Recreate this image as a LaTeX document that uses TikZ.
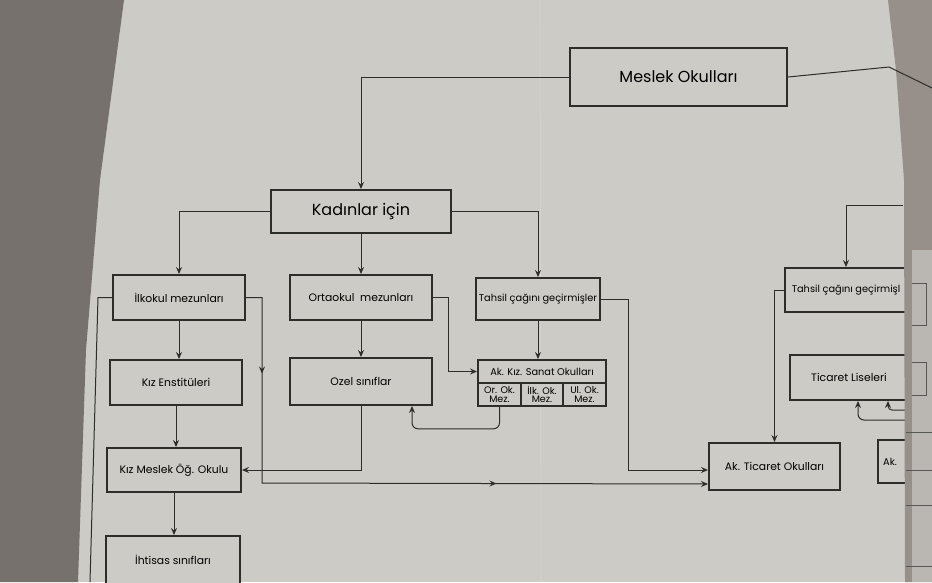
\documentclass[tikz,border=0pt]{standalone}
\usepackage{fontspec}
\setmainfont{Poppins}
\usetikzlibrary{arrows.meta,decorations.markings}
\definecolor{pagec}{RGB}{204,203,197}
\definecolor{leftpg}{RGB}{118,113,108}
\definecolor{foldc}{RGB}{150,143,138}
\definecolor{nextc}{RGB}{186,182,177}
\definecolor{ink}{RGB}{45,45,42}
\begin{document}
\begin{tikzpicture}[x=1pt,y=-1pt,
  box/.style={draw=ink,line width=2pt,fill=pagec,inner sep=0pt,align=center,
    font=\fontsize{10.8}{12}\selectfont},
  big/.style={font=\fontsize{16}{18}\selectfont},
  mid/.style={font=\fontsize{9.8}{11}\selectfont},
  cell/.style={draw=ink,line width=1.6pt,fill=pagec,inner sep=0pt,align=center,
    font=\fontsize{9.5}{8.6}\selectfont},
  sz/.style 2 args={minimum width=#1pt,minimum height=#2pt},
  conn/.style={draw=ink,line width=1pt},
  tip/.tip={Stealth[length=7pt,width=6pt,inset=2.5pt]},
  arr/.style={conn,-tip},
  thinline/.style={draw=ink!80,line width=0.8pt}]
\useasboundingbox (0,0) rectangle (932,582);
% background
\fill[pagec] (0,0) rectangle (932,582);
\fill[leftpg] (0,0) -- (124,0) -- (100,180) -- (86,350) -- (78,582) -- (0,582) -- cycle;
\draw[pagec!80!white,line width=0.6pt] (540,0) -- (541,582);
% nodes
\node[box,big,sz={217}{58}] (mo) at (678.5,77) {Meslek Okulları};
\node[box,big,sz={180}{43}] (ki) at (361,211.5) {Kadınlar için};
\node[box,sz={132}{45}] (ilk) at (179,297.5) {İlkokul mezunları};
\node[box,sz={142}{45}] (orta) at (361,297.5) {Ortaokul\ \ mezunları};
\node[box,mid,sz={124}{42}] (tah) at (538,299) {Tahsil çağını geçirmişler};
\node[box,sz={132}{45}] (kenst) at (176,382.5) {Kız Enstitüleri};
\node[box,sz={142}{47}] (ozel) at (361,381.5) {Ozel sınıflar};
\node[box,sz={134}{44}] (kmo) at (174,470) {Kız Meslek Öğ. Okulu};
\node[box,sz={134}{48}] (ihs) at (173,560) {İhtisas sınıfları};
\node[box,mid,sz={128}{23}] (aks) at (542,371.5) {Ak. Kız. Sanat Okulları};
\node[cell,sz={43}{23}] (c1) at (499.5,394.5) {Or. Ok.\\Mez.};
\node[cell,sz={42}{23}] (c2) at (542,394.5) {İlk. Ok.\\Mez.};
\node[cell,sz={43}{23}] (c3) at (584.5,394.5) {Ul. Ok.\\Mez.};
\node[box,sz={131}{47}] (ato) at (774.5,466.5) {Ak. Ticaret Okulları};
\node[box,mid,sz={122}{44}] (tah2) at (846,290) {Tahsil çağını geçirmişl};
\node[box,sz={118}{45}] (tl) at (849,377.5) {Ticaret Liseleri};
\node[box,mid,sz={30}{43}] (ak2) at (893,461.5) {Ak.\hspace*{6pt}};
% free ends
\coordinate (e1) at (90,582);
\coordinate (f1) at (903,205);
\coordinate (r1) at (906,420);
\coordinate (r2) at (906,410);
% connectors
\draw[arr] (mo.west) -| (ki.north);
\draw[arr] (ki.west) -| (ilk.north);
\draw[arr] (ki.south) -- (orta.north);
\draw[arr] (ki.east) -| (tah.north);
\draw[conn] (ilk.west) -- (98,297.5) -- (e1);
\draw[arr] (ilk.south) -- (ilk.south |- kenst.north);
\draw[arr] (kenst.south) -- (kenst.south |- kmo.north);
\draw[arr] (kmo.south) -- (kmo.south |- ihs.north);
\draw[arr] (orta.south) -- (ozel.north);
\draw[arr] (ozel.south) |- (kmo.east);
\draw[arr] (orta.east) -- (448,297.5) |- (aks.west);
\draw[arr] (tah.south) -- (tah.south |- aks.north);
\draw[arr,rounded corners=6pt] (c1.south) -- ++(0,22) -| ([xshift=51pt]ozel.south);
\draw[arr,postaction={decorate},decoration={markings,
    mark=at position 92pt with {\arrow{tip}},
    mark=at position 436pt with {\arrow{tip}}}]
  (ilk.east) -- (262,297.5) -- (262,483) -- ([yshift=7pt]ato.south west);
\draw[arr] (tah.east) -| (628,470) -- ([yshift=-3.5pt]ato.west);
\draw[arr] (tah2.west) -| (ato.north);
\draw[arr] (f1) -| (tah2.north);
\draw[arr,rounded corners=6pt] (r1) -| ([xshift=9pt]tl.south);
\draw[arr,rounded corners=4pt] (r2) -| ([xshift=39pt]tl.south);
% page fold at the right
\fill[foldc] (888,0) -- (932,0) -- (932,582) -- (905,582) -- (904,180) -- (896,70) -- cycle;
\fill[nextc] (912,250) -- (932,250) -- (932,582) -- (912,582) -- cycle;
\draw[conn] (mo.east) -- (889,67) -- (932,88);
\draw[thinline] (912,283) -- (926,283) -- (926,325) -- (912,325);
\draw[thinline] (912,362) -- (926,362) -- (926,395) -- (912,395);
\draw[thinline] (906,432) -- (932,432);
\draw[thinline] (906,470) -- (932,470);
\draw[thinline] (906,505) -- (932,505);
\draw[thinline] (906,566) -- (932,566);
\end{tikzpicture}
\end{document}
